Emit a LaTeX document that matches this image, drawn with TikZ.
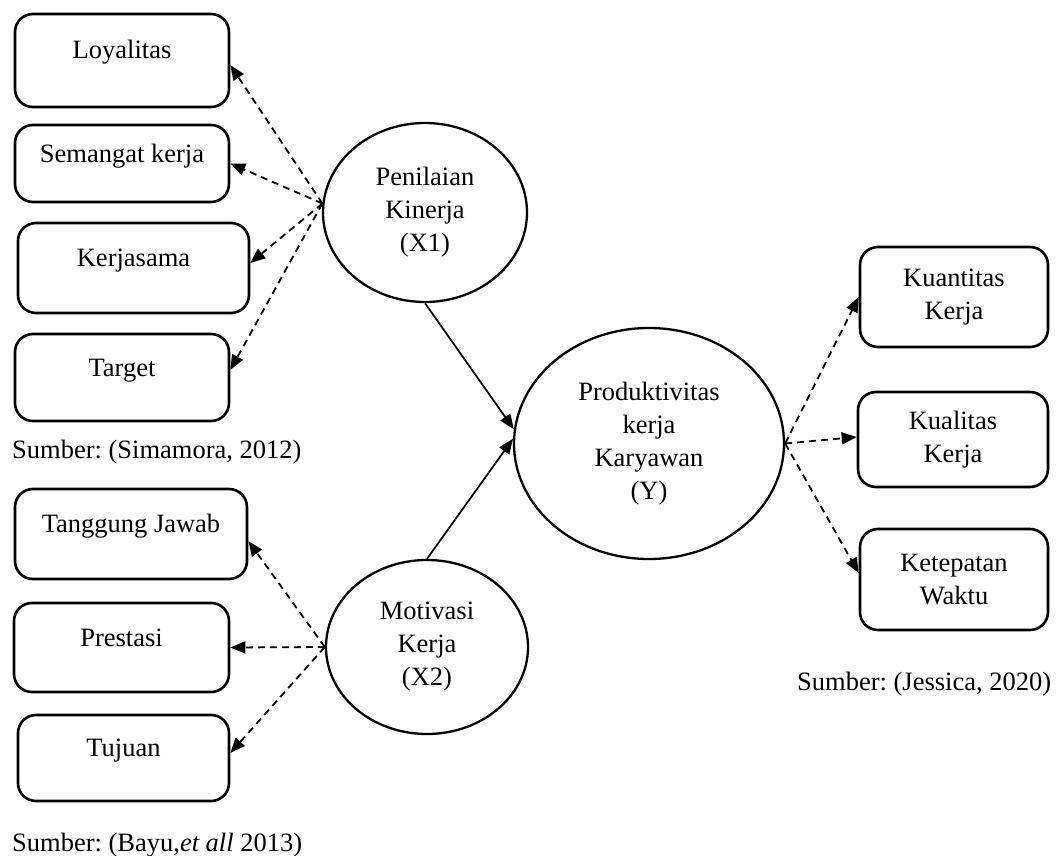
\documentclass[tikz,border=0pt]{standalone}
\usepackage{fontspec}
\setmainfont{Liberation Serif}
\usetikzlibrary{shapes.geometric,arrows.meta,calc}
\frenchspacing
\begin{document}
\begin{tikzpicture}[x=1pt,y=-1pt,
  every node/.style={font=\fontsize{26.5}{33}\selectfont},
  box/.style={draw, line width=2.6pt, rounded corners=18pt, inner sep=0pt, align=center},
  onebox/.style={draw, line width=2.6pt, rounded corners=18pt, inner sep=0pt, text height=18pt, text depth=21pt},
  latent/.style={draw, ellipse, line width=2.3pt, inner sep=0pt, align=center},
  dasharrow/.style={-{Triangle[length=15pt,width=12pt]}, line width=1.8pt, dash pattern=on 7pt off 5pt},
  solidarrow/.style={-{Triangle[length=15pt,width=12pt]}, line width=1.7pt},
  src/.style={anchor=base west, inner sep=0pt}]
\useasboundingbox (0,0) rectangle (1060,856);

% left indicator boxes (X1)
\node[onebox, minimum width=214pt, minimum height=93pt] (loy) at (122,60.5) {Loyalitas};
\node[onebox, minimum width=214pt, minimum height=77pt] (sem) at (122,163.5) {Semangat kerja};
\node[onebox, minimum width=231pt, minimum height=90pt] (ker) at (133.5,268) {Kerjasama};
\node[onebox, minimum width=214pt, minimum height=87pt] (tgt) at (122,377.5) {Target};

% left indicator boxes (X2)
\node[onebox, minimum width=232pt, minimum height=90pt] (tj) at (131,534) {Tanggung Jawab};
\node[onebox, minimum width=215pt, minimum height=89pt] (pre) at (121.5,647.5) {Prestasi};
\node[onebox, minimum width=211pt, minimum height=86pt] (tuj) at (123.5,758) {Tujuan};

% right indicator boxes (Y)
\node[box, minimum width=188pt, minimum height=100pt] (kuan) at (954,297) {Kuantitas\\Kerja};
\node[box, minimum width=190pt, minimum height=95pt] (kual) at (953,439.5) {Kualitas\\Kerja};
\node[box, minimum width=188pt, minimum height=101pt] (ket) at (954,579.5) {Ketepatan\\Waktu};

% latent variables
\node[latent, minimum width=204pt, minimum height=179pt] (x1) at (425,212.5) {Penilaian\\Kinerja\\(X1)};
\node[latent, minimum width=270pt, minimum height=231pt] (y) at (649,443.5) {Produktivitas\\kerja\\Karyawan\\(Y)};
\node[latent, minimum width=202pt, minimum height=174pt] (x2) at (427,647) {Motivasi\\Kerja\\(X2)};

% sources
\node[src] (s1) at (12,458) {Sumber: (Simamora, 2012)};
\node[src] (s2) at (12,851) {Sumber: (Bayu,\textit{et all} 2013)};
\node[src] (s3) at (797,690) {Sumber: (Jessica, 2020)};

% dashed indicator arrows X1
\draw[dasharrow] (x1.175) -- ([yshift=-4.5pt]loy.east);
\draw[dasharrow] (x1.175) -- (sem.east);
\draw[dasharrow] (x1.175) -- ([yshift=5pt]ker.east);
\draw[dasharrow] (x1.175) -- ([yshift=7.5pt]tgt.east);

% dashed indicator arrows X2
\draw[dasharrow] (x2.west) -- ([yshift=-7pt]tj.east);
\draw[dasharrow] (x2.west) -- (pre.east);
\draw[dasharrow] (x2.west) -- ([yshift=5pt]tuj.east);

% dashed indicator arrows Y
\draw[dasharrow] (y.east) -- (kuan.west);
\draw[dasharrow] (y.east) -- ([yshift=2.5pt]kual.west);
\draw[dasharrow] (y.east) -- ([yshift=6.5pt]ket.west);

% structural paths
\draw[solidarrow] (x1.south) -- (y.174);
\draw[solidarrow] (x2.north) -- (y.178);
\end{tikzpicture}
\end{document}
